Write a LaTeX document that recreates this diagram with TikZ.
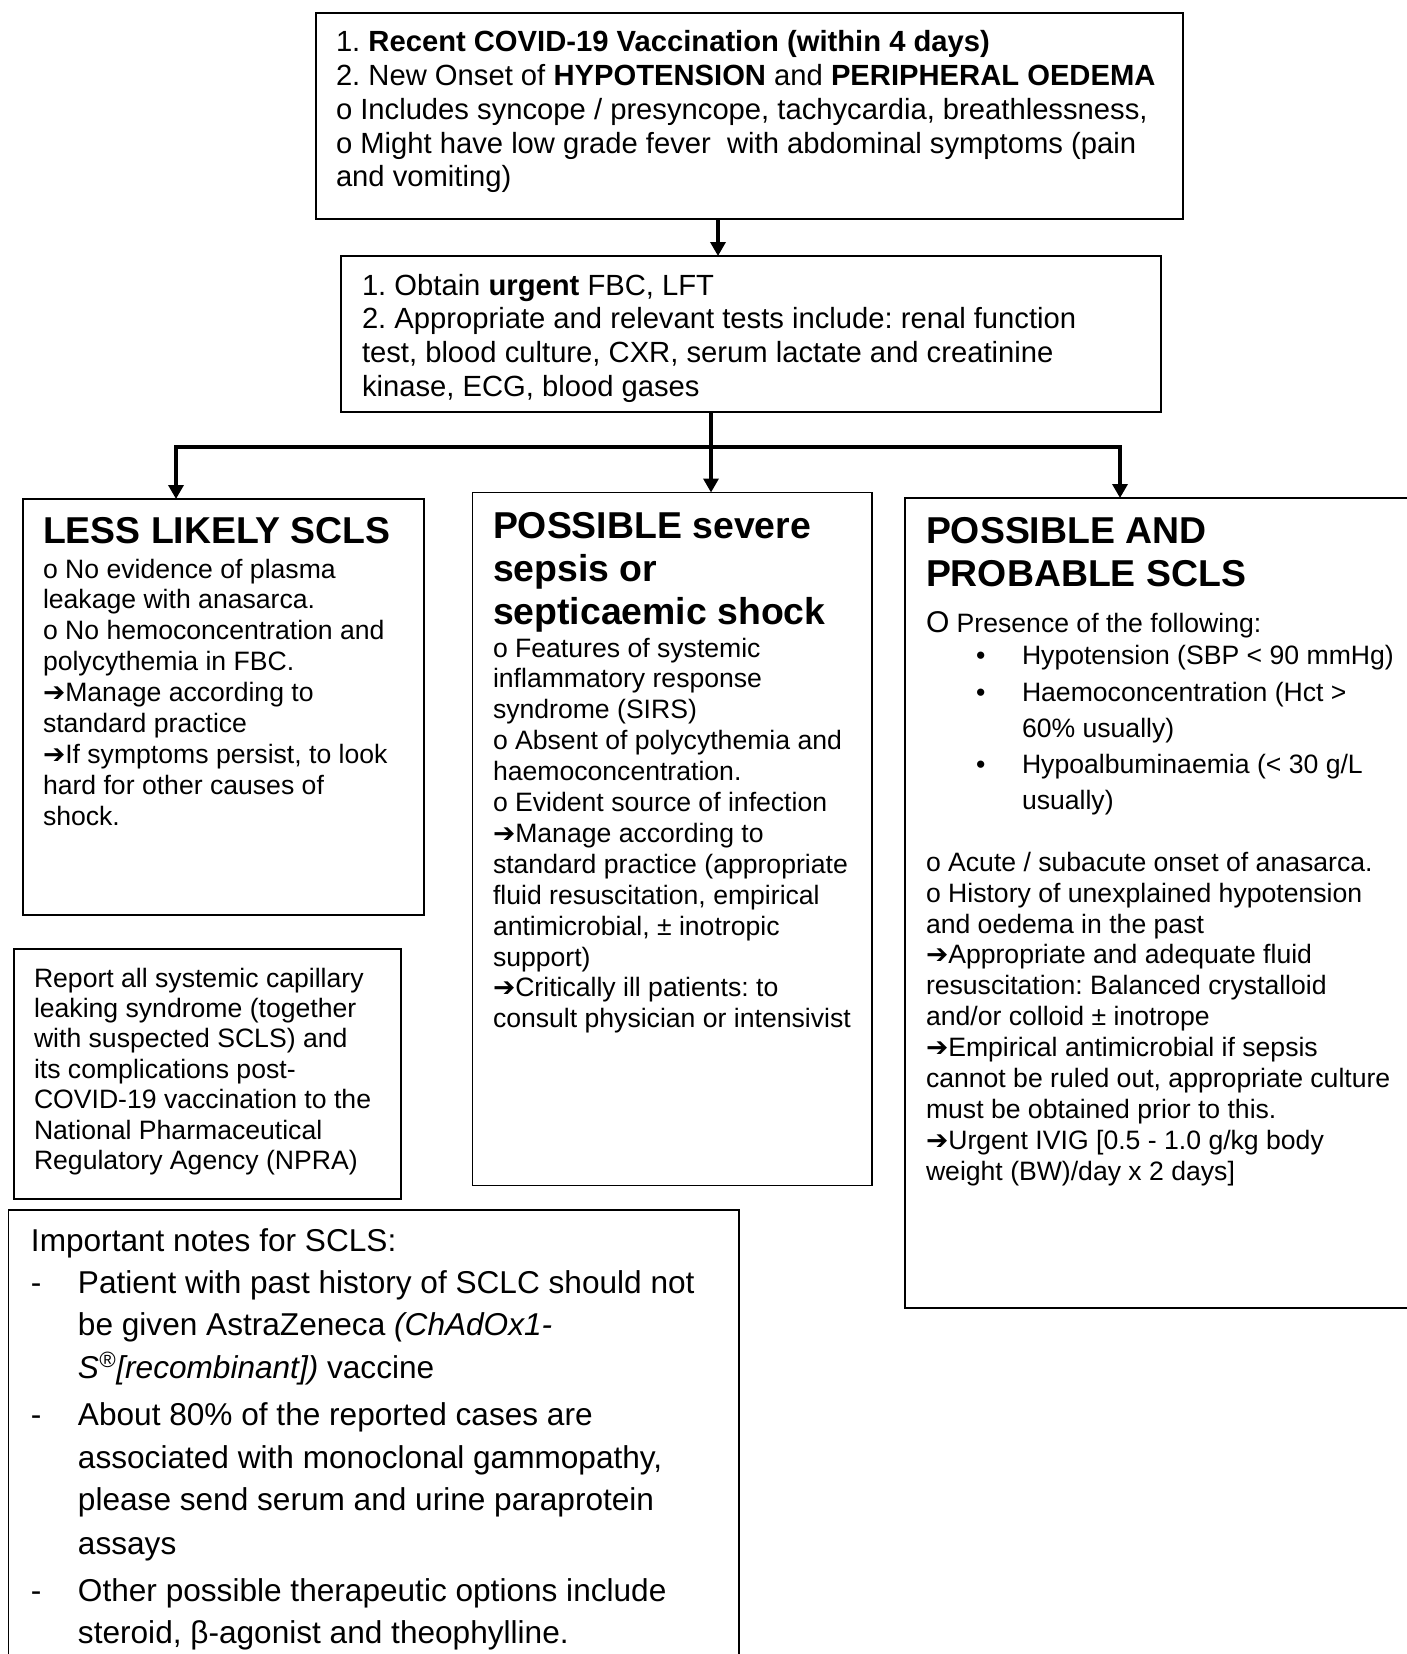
\documentclass[tikz,border=0pt]{standalone}
\usepackage{fontspec}
\setmainfont{Liberation Sans}
\newfontfamily\arrowfont{DejaVu Sans}
\usetikzlibrary{arrows.meta}
\frenchspacing

% font sizes used in the chart
\newcommand\leadtxt{\fontsize{14.6}{16.9}\selectfont}
\newcommand\headtxt{\fontsize{18.7}{21.5}\selectfont\bfseries}
\newcommand\bodytxt{\fontsize{13.3}{15.45}\selectfont}
\newcommand\reptxt{\fontsize{13.3}{15.2}\selectfont}
\newcommand\notetxt{\fontsize{15.8}{21.2}\selectfont}
% first-line strut, so that the node top sits a fixed height above the first baseline
\newcommand\fl[1]{\rule{0pt}{#1}}
\newcommand\ra{{\arrowfont ➔}}

\begin{document}
\begin{tikzpicture}[x=0.5pt,y=-0.5pt,
  box/.style={draw,line width=0.75pt,anchor=north west,inner sep=0pt,outer sep=0pt},
  txt/.style={anchor=north west,inner sep=0pt,outer sep=0pt,align=left},
  conn/.style={line width=1.7pt},
  arr/.style={conn,-{Triangle[length=7pt,width=7.5pt]}}]
\useasboundingbox (0,0) rectangle (1407,1654);

% boxes
\node[box,minimum width=433.5pt,minimum height=103pt] (top) at (316,13) {};
\node[box,minimum width=410pt,minimum height=78pt] (box2) at (341,256) {};
\node[box,minimum width=200.5pt,minimum height=208pt] (left) at (23,499) {};
\node[box,minimum width=199.75pt,minimum height=346.5pt] (mid) at (472.5,492.5) {};
\node[box,minimum width=260pt,minimum height=405pt] (right) at (905,498) {};
\node[box,minimum width=193.5pt,minimum height=125pt] (report) at (14,949) {};
\node[box,minimum width=365.3pt,minimum height=232pt] (notes) at (8.4,1210) {};

% texts
\node[txt,font=\leadtxt] (toptext) at (336,22.4) {\fl{14.6pt}1. \textbf{Recent COVID-19 Vaccination (within 4 days)}\\
2. New Onset of \textbf{HYPOTENSION} and \textbf{PERIPHERAL OEDEMA}\\
o Includes syncope / presyncope, tachycardia, breathlessness,\\
o Might have low grade fever\ \ with abdominal symptoms (pain\\
and vomiting)};

\node[txt,font=\leadtxt] (box2text) at (362,265.8) {\fl{14.6pt}1. Obtain \textbf{urgent} FBC, LFT\\
2. Appropriate and relevant tests include: renal function\\
test, blood culture, CXR, serum lactate and creatinine\\
kinase, ECG, blood gases};

\node[txt,font=\headtxt] (lefthead) at (43,506.4) {\fl{18.7pt}LESS LIKELY SCLS};
\node[txt,font=\bodytxt] (leftbody) at (43,551.4) {\fl{13.3pt}o No evidence of plasma\\
leakage with anasarca.\\
o No hemoconcentration and\\
polycythemia in FBC.\\
\ra Manage according to\\
standard practice\\
\ra If symptoms persist, to look\\
hard for other causes of\\
shock.};

\node[txt,font=\headtxt] (midhead) at (493,501.4) {\fl{18.7pt}POSSIBLE severe\\
sepsis or\\
septicaemic shock};
\node[txt,font=\bodytxt] (midbody) at (493,630.4) {\fl{13.3pt}o Features of systemic\\
inflammatory response\\
syndrome (SIRS)\\
o Absent of polycythemia and\\
haemoconcentration.\\
o Evident source of infection\\
\ra Manage according to\\
standard practice (appropriate\\
fluid resuscitation, empirical\\
antimicrobial, ± inotropic\\
support)\\
\ra Critically ill patients: to\\
consult physician or intensivist};

\node[txt,font=\headtxt] (righthead) at (926,506.4) {\fl{18.7pt}POSSIBLE AND\\
PROBABLE SCLS};
\node[txt,font=\bodytxt] (rightbody) at (926,605.4) {\fl{13.3pt}{\fontsize{15}{15}\selectfont O} Presence of the following:\\[0.8pt]
\hspace*{25pt}\makebox[23pt][l]{•}Hypotension (SBP < 90 mmHg)\\[3pt]
\hspace*{25pt}\makebox[23pt][l]{•}Haemoconcentration (Hct >\\[2.5pt]
\hspace*{48pt}60\% usually)\\[2.5pt]
\hspace*{25pt}\makebox[23pt][l]{•}Hypoalbuminaemia (< 30 g/L\\[2.5pt]
\hspace*{48pt}usually)\\[15.6pt]
o Acute / subacute onset of anasarca.\\
o History of unexplained hypotension\\
and oedema in the past\\
\ra Appropriate and adequate fluid\\
resuscitation: Balanced crystalloid\\
and/or colloid ± inotrope\\
\ra Empirical antimicrobial if sepsis\\
cannot be ruled out, appropriate culture\\
must be obtained prior to this.\\
\ra Urgent IVIG [0.5 - 1.0 g/kg body\\
weight (BW)/day x 2 days]};

\node[txt,font=\reptxt] (reporttext) at (34,960.4) {\fl{13.3pt}Report all systemic capillary\\
leaking syndrome (together\\
with suspected SCLS) and\\
its complications post-\\
COVID-19 vaccination to the\\
National Pharmaceutical\\
Regulatory Agency (NPRA)};

\node[txt,font=\notetxt] (notestext) at (31,1219.4) {\fl{15.8pt}Important notes for SCLS:\\
\makebox[23.5pt][l]{-}Patient with past history of SCLC should not\\
\hspace*{23.5pt}be given AstraZeneca \textit{(ChAdOx1-}\\
\hspace*{23.5pt}\textit{S\textsuperscript{®}[recombinant])} vaccine\\[2.5pt]
\makebox[23.5pt][l]{-}About 80\% of the reported cases are\\
\hspace*{23.5pt}associated with monoclonal gammopathy,\\
\hspace*{23.5pt}please send serum and urine paraprotein\\[1pt]
\hspace*{23.5pt}assays\\[2pt]
\makebox[23.5pt][l]{-}Other possible therapeutic options include\\
\hspace*{23.5pt}steroid, β-agonist and theophylline.};

% connectors
\coordinate (ta) at (718,0);
\coordinate (jc) at (711,447);
\coordinate (jl) at (176,447);
\coordinate (jr) at (1120,447);
\draw[arr] (top.south -| ta) -- (box2.north -| ta);
\draw[arr] (box2.south -| jc) -- (mid.north -| jc);
\draw[conn,{Triangle[length=7pt,width=7.5pt]}-{Triangle[length=7pt,width=7.5pt]}]
  (left.north -| jl) -- (jl) -- (jr) -- (right.north -| jr);
\end{tikzpicture}
\end{document}
